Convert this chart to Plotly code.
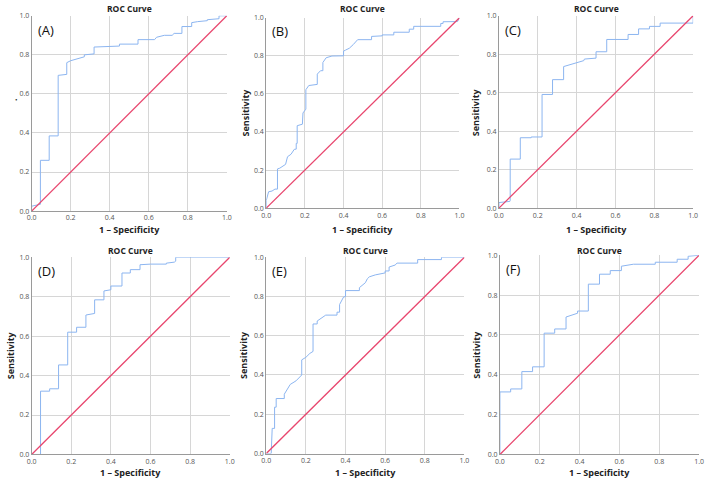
import plotly.graph_objects as go

W, H = 709, 484

panel_labels = ["(A)", "(B)", "(C)", "(D)", "(E)", "(F)"]
tick_vals = [0.0, 0.2, 0.4, 0.6, 0.8, 1.0]
tick_text = ["0.0", "0.2", "0.4", "0.6", "0.8", "1.0"]
ref_line = [0.0, 1.0]

A_fpr = [0, 0, 0.045, 0.045, 0.09, 0.09, 0.136, 0.136, 0.18, 0.18, 0.2, 0.27, 0.27, 0.32, 0.32,
         0.45, 0.45, 0.545, 0.545, 0.63, 0.64, 0.68, 0.72, 0.73, 0.77, 0.77, 0.82, 0.82, 0.85, 0.9,
         0.9, 0.96, 0.96, 1.0]
A_tpr = [0, 0.025, 0.035, 0.26, 0.26, 0.385, 0.385, 0.695, 0.70, 0.76, 0.77, 0.79, 0.80, 0.805, 0.84,
         0.845, 0.855, 0.855, 0.878, 0.878, 0.89, 0.90, 0.90, 0.91, 0.91, 0.945, 0.945, 0.965, 0.97, 0.975,
         0.98, 0.985, 1.0, 1.0]

B_fpr = [0, 0, 0.012, 0.03, 0.045, 0.058, 0.058, 0.07, 0.1, 0.11, 0.128, 0.145, 0.155, 0.155, 0.16,
         0.16, 0.187, 0.19, 0.205, 0.205, 0.22, 0.264, 0.264, 0.281, 0.293, 0.293, 0.31, 0.34, 0.4, 0.4,
         0.41, 0.43, 0.45, 0.473, 0.545, 0.545, 0.6, 0.6, 0.66, 0.66, 0.74, 0.74, 0.763, 0.763, 0.903,
         0.903, 0.915, 0.915, 0.99, 1.0]
B_tpr = [0, 0.04, 0.086, 0.09, 0.10, 0.10, 0.206, 0.21, 0.23, 0.27, 0.283, 0.309, 0.31, 0.34, 0.34,
         0.433, 0.441, 0.50, 0.52, 0.622, 0.644, 0.65, 0.704, 0.722, 0.722, 0.765, 0.79, 0.799, 0.80, 0.825,
         0.83, 0.84, 0.859, 0.885, 0.885, 0.902, 0.905, 0.91, 0.91, 0.924, 0.924, 0.94, 0.94, 0.955, 0.955,
         0.97, 0.97, 0.979, 0.98, 1.0]

C_fpr = [0, 0, 0.056, 0.058, 0.058, 0.11, 0.11, 0.166, 0.166, 0.222, 0.222, 0.276, 0.276, 0.333, 0.333,
         0.437, 0.44, 0.5, 0.5, 0.555, 0.555, 0.665, 0.665, 0.719, 0.719, 0.775, 0.775, 0.83, 0.83, 1.0, 1.0]
C_tpr = [0, 0.029, 0.035, 0.04, 0.255, 0.255, 0.366, 0.366, 0.37, 0.37, 0.591, 0.591, 0.668, 0.668, 0.736,
         0.767, 0.775, 0.78, 0.813, 0.813, 0.877, 0.877, 0.903, 0.903, 0.932, 0.932, 0.945, 0.945, 0.962, 0.962, 1.0]

D_fpr = [0, 0.045, 0.045, 0.091, 0.091, 0.136, 0.136, 0.182, 0.182, 0.227, 0.227, 0.274, 0.274, 0.318, 0.318,
         0.365, 0.365, 0.4, 0.4, 0.456, 0.456, 0.498, 0.498, 0.547, 0.547, 0.6, 0.68, 0.68, 0.72, 0.727, 0.727, 1.0]
D_tpr = [0, 0, 0.321, 0.321, 0.333, 0.333, 0.454, 0.454, 0.62, 0.62, 0.645, 0.645, 0.707, 0.715, 0.784,
         0.784, 0.829, 0.835, 0.854, 0.854, 0.92, 0.92, 0.937, 0.937, 0.962, 0.965, 0.965, 0.97, 0.975, 0.98, 1.0, 1.0]

E_fpr = [0, 0.025, 0.03, 0.042, 0.042, 0.05, 0.05, 0.091, 0.091, 0.121, 0.15, 0.17, 0.179, 0.179, 0.2,
         0.22, 0.236, 0.236, 0.257, 0.257, 0.28, 0.3, 0.357, 0.357, 0.37, 0.37, 0.39, 0.4, 0.4, 0.47,
         0.47, 0.49, 0.5, 0.51, 0.52, 0.55, 0.6, 0.6, 0.62, 0.62, 0.65, 0.66, 0.764, 0.764, 0.884, 0.884, 1.0]
E_tpr = [0, 0, 0.128, 0.128, 0.236, 0.236, 0.28, 0.28, 0.302, 0.352, 0.37, 0.39, 0.40, 0.477, 0.49,
         0.51, 0.52, 0.66, 0.66, 0.675, 0.69, 0.705, 0.705, 0.72, 0.72, 0.759, 0.797, 0.80, 0.83, 0.83,
         0.845, 0.86, 0.87, 0.89, 0.90, 0.91, 0.92, 0.93, 0.93, 0.95, 0.96, 0.97, 0.97, 0.988, 0.988, 1.0, 1.0]

F_fpr = [0, 0, 0.054, 0.054, 0.11, 0.11, 0.164, 0.164, 0.222, 0.222, 0.275, 0.275, 0.332, 0.332, 0.39,
         0.39, 0.444, 0.444, 0.5, 0.5, 0.554, 0.554, 0.61, 0.61, 0.67, 0.78, 0.78, 0.89, 0.89, 0.945, 0.945, 1.0]
F_tpr = [0, 0.314, 0.314, 0.329, 0.329, 0.416, 0.416, 0.44, 0.44, 0.609, 0.609, 0.63, 0.63, 0.69, 0.709,
         0.72, 0.72, 0.855, 0.855, 0.905, 0.905, 0.923, 0.923, 0.945, 0.955, 0.955, 0.965, 0.965, 0.98, 0.98, 0.995, 1.0]

curves = [(A_fpr, A_tpr), (B_fpr, B_tpr), (C_fpr, C_tpr), (D_fpr, D_tpr), (E_fpr, E_tpr), (F_fpr, F_tpr)]

# plot areas in pixels: (x0, x1, ytop, ybottom)
boxes = [(27, 225, 11, 210), (265, 461, 13, 207), (501, 698, 11, 207),
         (27, 228, 257, 458), (265, 466, 257, 457), (502, 704, 255, 458)]
ylabel_x = [8, 244, 478, 5, 242, 478]
ylabel_y = [96, 110, 109, 357, 357, 356]
xlabel_y = [229, 229, 229, 476, 476, 476]
title_y = [4, 4, 4, 250, 250, 250]

BLUE = "#8cb5f0"
RED = "#e8466e"
FONT = "Open Sans"

fig = go.Figure()
annotations = []
layout = {}

for i, ((fx, fy), (x0, x1, yt, yb)) in enumerate(zip(curves, boxes)):
    n = i + 1
    xa = "x" if n == 1 else f"x{n}"
    ya = "y" if n == 1 else f"y{n}"
    fig.add_trace(go.Scatter(x=fx, y=fy, mode="lines", xaxis=xa, yaxis=ya,
                             line=dict(color=BLUE, width=1), showlegend=False))
    fig.add_trace(go.Scatter(x=ref_line, y=ref_line, mode="lines", xaxis=xa, yaxis=ya,
                             line=dict(color=RED, width=1.3), showlegend=False, hoverinfo="skip"))
    common = dict(range=[0, 1], tickvals=tick_vals, ticktext=tick_text, showgrid=True,
                  gridcolor="#d6d6d6", gridwidth=1, zeroline=False, showline=True,
                  linecolor="#9a9a9a", linewidth=1, ticks="", fixedrange=True,
                  tickfont=dict(size=7, color="#555555", family=FONT))
    layout[f"xaxis{n if n > 1 else ''}"] = dict(common, domain=[x0 / W, x1 / W], anchor=ya)
    layout[f"yaxis{n if n > 1 else ''}"] = dict(common, domain=[1 - yb / H, 1 - yt / H], anchor=xa)

    cx = (x0 + x1) / 2 / W
    annotations.append(dict(x=cx, y=1 - title_y[i] / H, xref="paper", yref="paper", text="<b>ROC Curve</b>",
                            showarrow=False, xanchor="center", yanchor="middle",
                            font=dict(size=8.5, color="#222222", family=FONT)))
    annotations.append(dict(x=cx, y=1 - xlabel_y[i] / H, xref="paper", yref="paper",
                            text="<b>1 – Specificity</b>", showarrow=False, xanchor="center", yanchor="middle",
                            font=dict(size=9, color="#222222", family=FONT)))
    ylab = "<b>Sensitivity</b>" if i > 0 else "<b>.</b>"
    annotations.append(dict(x=ylabel_x[i] / W, y=1 - ylabel_y[i] / H, xref="paper", yref="paper",
                            text=ylab, textangle=-90, showarrow=False, xanchor="center", yanchor="middle",
                            font=dict(size=9, color="#222222", family=FONT)))
    annotations.append(dict(x=(x0 + 4) / W, y=1 - (yt + 14) / H, xref="paper", yref="paper",
                            text=panel_labels[i], showarrow=False, xanchor="left", yanchor="middle",
                            font=dict(size=13, color="#111111", family=FONT)))

fig.update_layout(width=W, height=H, margin=dict(l=0, r=0, t=0, b=0, pad=0),
                  paper_bgcolor="white", plot_bgcolor="white", hovermode=False,
                  annotations=annotations, **layout)

fig.write_html("out.html", config={"displayModeBar": False, "staticPlot": True},
               post_script="document.body.style.margin='0px';document.body.style.padding='0px';")
